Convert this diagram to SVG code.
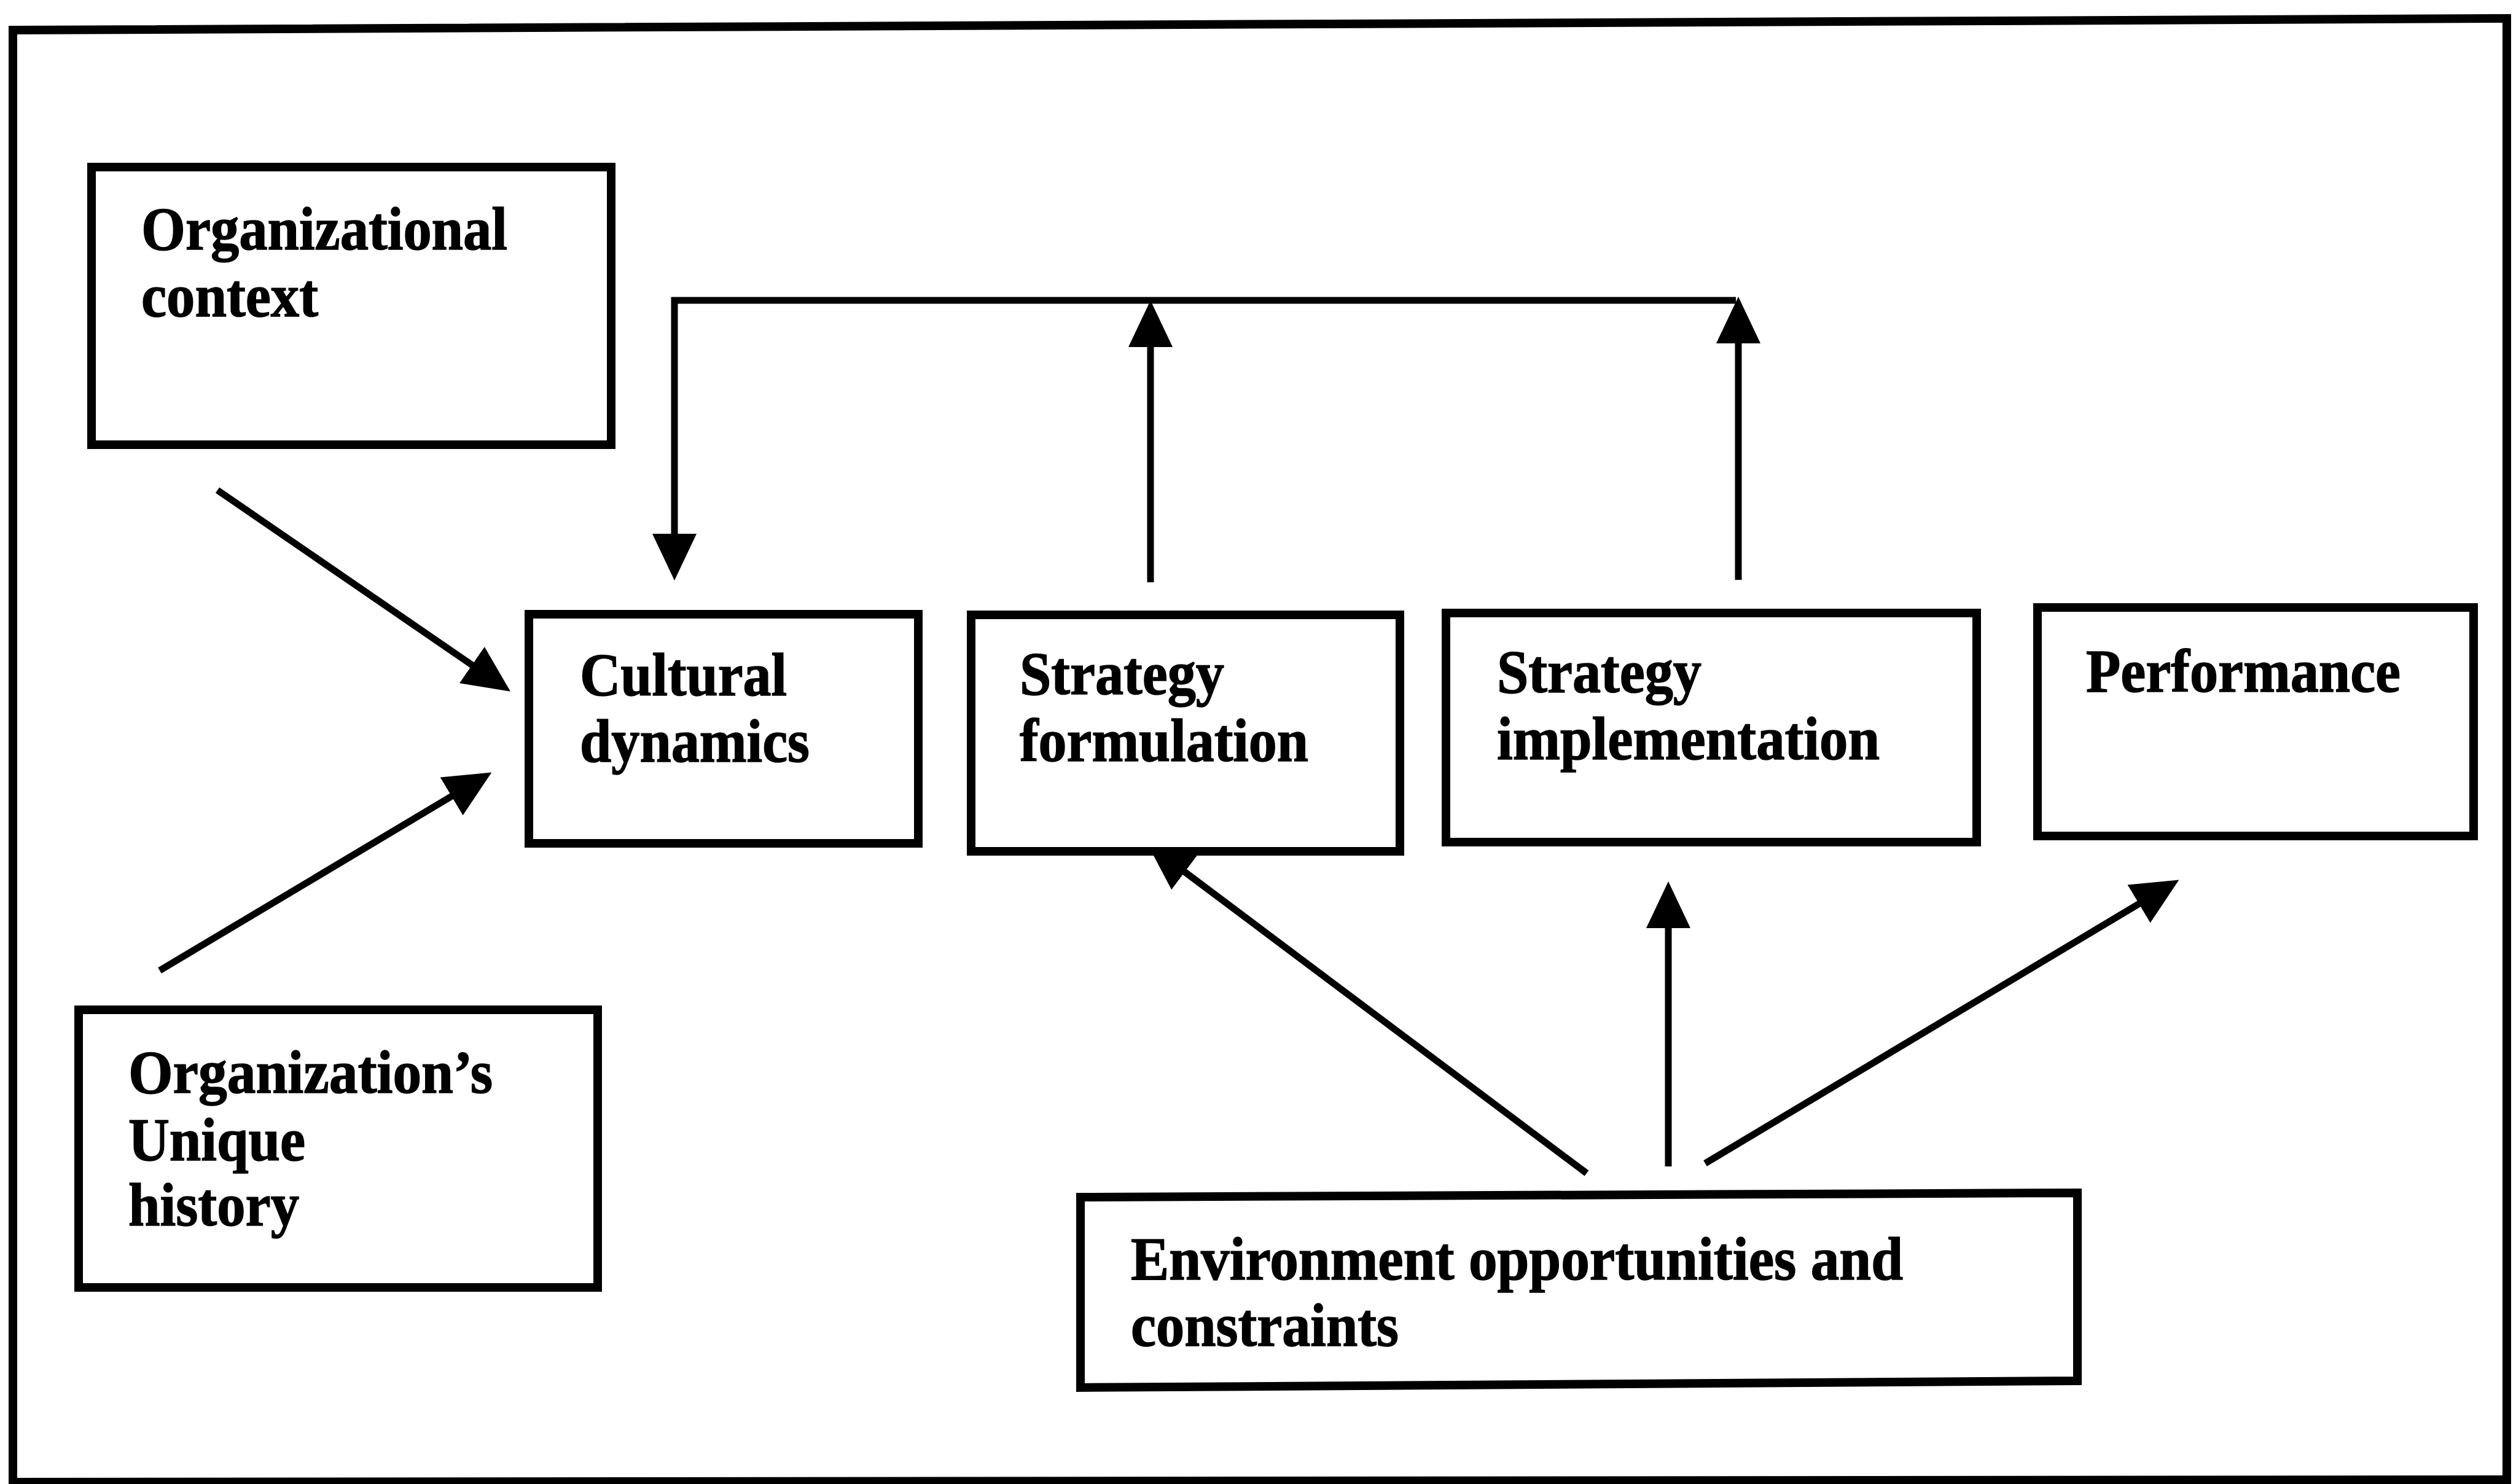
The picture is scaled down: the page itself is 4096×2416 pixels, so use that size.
<svg xmlns="http://www.w3.org/2000/svg" width="4096" height="2416" viewBox="0 0 4096 2416">
  <defs>
    <style>
      .frame { fill: none; stroke: #000; stroke-width: 14; stroke-linejoin: miter; }
      .box { fill: #fff; stroke: #000; stroke-width: 14; }
      .edge { fill: none; stroke: #000; stroke-width: 11; marker-end: url(#ah); }
      .lbl { font-family: "Liberation Serif", "Times New Roman", serif; font-weight: bold; font-size: 100px; fill: #000; stroke: #000; stroke-width: 1.5; }
    </style>
    <!-- solid triangular arrowhead; tip sits 40 units past the line end -->
    <marker id="ah" viewBox="0 0 76 72" refX="36" refY="36" markerWidth="76" markerHeight="72" markerUnits="userSpaceOnUse" orient="auto">
      <path d="M0,0 L76,36 L0,72 Z" fill="#000"/>
    </marker>
  </defs>

  <rect width="4096" height="2416" fill="#fff"/>

  <!-- outer border -->
  <path class="frame" d="M21,49 L4081,30 L4081,2409 L21,2413 Z"/>

  <!-- connectors -->
  <g id="connectors">
    <line id="e-context-culture" class="edge" x1="354" y1="798" x2="798" y2="1103"/>
    <line id="e-history-culture" class="edge" x1="260" y1="1580" x2="766" y2="1278"/>
    <path id="e-feedback" class="edge" d="M2826,489 H1098 V905"/>
    <line id="e-formulation-up" class="edge" x1="1873" y1="948" x2="1873" y2="529"/>
    <line id="e-implementation-up" class="edge" x1="2830" y1="944" x2="2830" y2="523"/>
    <line id="e-env-formulation" class="edge" x1="2583" y1="1910" x2="1900" y2="1398"/>
    <line id="e-env-implementation" class="edge" x1="2716" y1="1899" x2="2716" y2="1475"/>
    <line id="e-env-performance" class="edge" x1="2776" y1="1894" x2="3513" y2="1453"/>
  </g>

  <!-- nodes -->
  <g id="n-context">
    <rect class="box" x="149" y="272" width="846" height="452"/>
    <text class="lbl" x="230" y="406" textLength="596" lengthAdjust="spacingAndGlyphs">Organizational</text>
    <text class="lbl" x="230" y="515" textLength="288" lengthAdjust="spacingAndGlyphs">context</text>
  </g>

  <g id="n-culture">
    <rect class="box" x="861" y="1000" width="634" height="373"/>
    <text class="lbl" x="944" y="1132" textLength="337" lengthAdjust="spacingAndGlyphs">Cultural</text>
    <text class="lbl" x="944" y="1240" textLength="374" lengthAdjust="spacingAndGlyphs">dynamics</text>
  </g>

  <g id="n-formulation">
    <rect class="box" x="1581" y="1001" width="698" height="385"/>
    <text class="lbl" x="1660" y="1130" textLength="333" lengthAdjust="spacingAndGlyphs">Strategy</text>
    <text class="lbl" x="1660" y="1239" textLength="470" lengthAdjust="spacingAndGlyphs">formulation</text>
  </g>

  <g id="n-implementation">
    <rect class="box" x="2354" y="998" width="864" height="373"/>
    <text class="lbl" x="2437" y="1127" textLength="333" lengthAdjust="spacingAndGlyphs">Strategy</text>
    <text class="lbl" x="2437" y="1236" textLength="623" lengthAdjust="spacingAndGlyphs">implementation</text>
  </g>

  <g id="n-performance">
    <rect class="box" x="3317" y="989" width="710" height="372"/>
    <text class="lbl" x="3396" y="1126" textLength="512" lengthAdjust="spacingAndGlyphs">Performance</text>
  </g>

  <g id="n-history">
    <rect class="box" x="128" y="1644" width="845" height="452"/>
    <text class="lbl" x="209" y="1779" textLength="593" lengthAdjust="spacingAndGlyphs">Organization’s</text>
    <text class="lbl" x="209" y="1889" textLength="288" lengthAdjust="spacingAndGlyphs">Unique</text>
    <text class="lbl" x="209" y="1995" textLength="278" lengthAdjust="spacingAndGlyphs">history</text>
  </g>

  <g id="n-environment">
    <polygon class="box" points="1759,1949 3382,1942 3382,2248 1759,2259"/>
    <text class="lbl" x="1841" y="2083" textLength="1257" lengthAdjust="spacingAndGlyphs">Environment opportunities and</text>
    <text class="lbl" x="1841" y="2191" textLength="436" lengthAdjust="spacingAndGlyphs">constraints</text>
  </g>
</svg>
